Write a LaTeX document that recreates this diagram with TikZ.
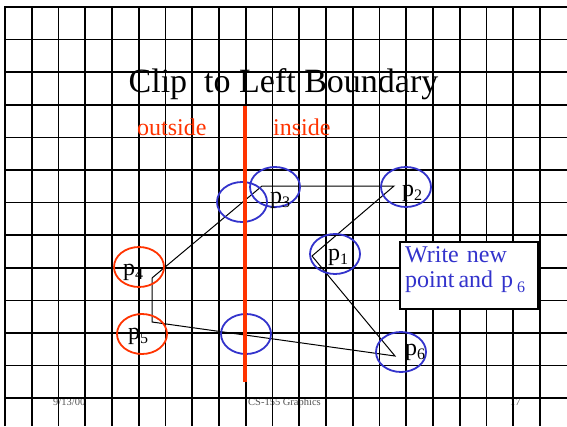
\documentclass[tikz,border=0pt]{standalone}
\usepackage{fontspec}
\setmainfont{Liberation Serif}
\usetikzlibrary{shapes.geometric}
\definecolor{myblue}{HTML}{3333CC}
\definecolor{myred}{HTML}{FF3300}
\definecolor{footgray}{HTML}{555555}
\newcommand\plab[1]{p\raisebox{-4.5pt}{\fontsize{16}{16}\selectfont #1}}
\begin{document}
\begin{tikzpicture}[x=1pt,y=-1pt,
  gridline/.style={line width=1.6pt, black},
  borderline/.style={line width=2.6pt, black},
  polyline/.style={line width=1pt, black},
  redline/.style={line width=4.5pt, myred},
  blueell/.style={ellipse, draw=myblue, line width=1.8pt, minimum width=50pt, minimum height=40pt, inner sep=0pt},
  redell/.style={ellipse, draw=myred, line width=1.8pt, minimum width=50pt, minimum height=40pt, inner sep=0pt},
  plabel/.style={anchor=base west, inner sep=0pt, font=\fontsize{24}{24}\selectfont},
  foot/.style={anchor=base west, inner sep=0pt, text=footgray, font=\fontsize{10.5}{11}\selectfont},
  redtext/.style={anchor=base west, inner sep=0pt, text=myred, font=\fontsize{24}{24}\selectfont}
]
\useasboundingbox (0,0) rectangle (567,426);
\fill[white] (0,0) rectangle (567,426);

% footer (under the grid)
\node[foot] (date) at (53,405) {9/13/00};
\node[foot] (course) at (248,405) {CS-155 Graphics};
\node[foot] (page) at (510,405) {17};

% grid
\foreach \i in {1,...,20} \draw[gridline] ({5+26.75*\i},7) -- ({5+26.75*\i},426);
\foreach \j in {1,...,12} \draw[gridline] (5,{7+32.6*\j}) -- (567,{7+32.6*\j});
\draw[borderline] (5,426) -- (5,7) -- (567,7);

% title and side labels
\node[anchor=base, inner sep=0pt, font=\fontsize{34}{34}\selectfont] (title) at (283.5,92) {Clip\ \ to Left Boundary};
\node[redtext] (outside) at (137,135) {outside};
\node[redtext] (inside) at (273,135) {inside};

% polygon vertices
\coordinate (v3) at (262,186);
\coordinate (v2) at (394,186);
\coordinate (v1) at (312,256);
\coordinate (v6) at (395,356);
\coordinate (v5) at (152,322);
\coordinate (v4) at (152,278);
\draw[polyline] (v4) -- (v3) -- (v2) -- (v1) -- (v6) -- (v5) -- (v4);

% ellipses
\node[blueell] (ei1) at (242,202) {};
\node[blueell] (e3) at (275,187) {};
\node[blueell] (e2) at (406,187) {};
\node[blueell] (e1) at (335,254) {};
\node[redell] (e4) at (139,267) {};
\node[redell] (e5) at (142,334) {};
\node[blueell] (ei2) at (246,334) {};
\node[blueell] (e6) at (401,352) {};

% boundary
\coordinate (rtop) at (245,106);
\coordinate (rbot) at (245,382);
\draw[redline] (rtop) -- (rbot);

% point labels
\node[plabel] (l3) at (270,203) {\plab{3}};
\node[plabel] (l2) at (402,196) {\plab{2}};
\node[plabel] (l1) at (328,260) {\plab{1}};
\node[plabel] (l4) at (123,275) {\plab{4}};
\node[plabel] (l5) at (128,339) {\plab{5}};
\node[plabel] (l6) at (405,355) {\plab{6}};

% note box
\node[draw=black, line width=1.5pt, fill=white, minimum width=138pt, minimum height=67pt, inner sep=0pt, anchor=north west] (box) at (399,241) {};
\node[anchor=base west, inner sep=0pt, text width=135pt, align=left, text=myblue, font=\fontsize{24}{25.5}\selectfont] (note) at (405,262) {Write new\\point\,and p\,\raisebox{-4.5pt}{\fontsize{16}{16}\selectfont 6}};
\end{tikzpicture}
\end{document}
